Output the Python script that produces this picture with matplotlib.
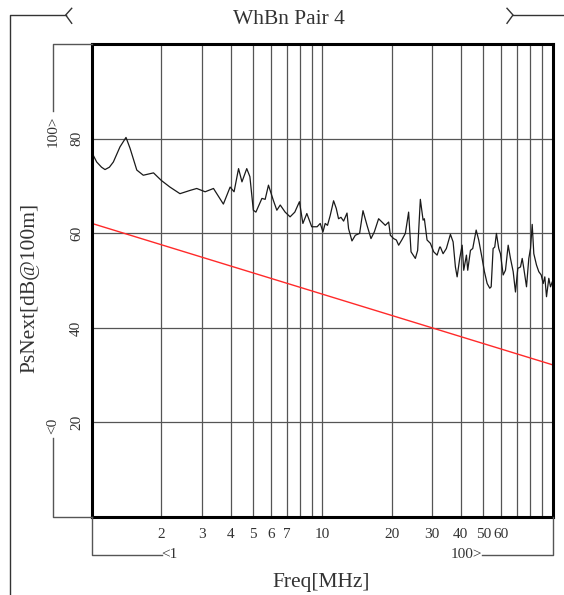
import matplotlib
matplotlib.use("Agg")
import matplotlib.pyplot as plt

# ---- data ----
freq_mhz = [1.0, 1.013, 1.048, 1.10, 1.139, 1.19, 1.238, 1.323, 1.405, 1.463, 1.565, 1.67,
            1.85, 2.0, 2.18, 2.41, 2.67, 2.85, 3.1, 3.37, 3.72, 3.98, 4.14, 4.33, 4.48,
            4.70, 4.85, 5.02, 5.15, 5.47, 5.65, 5.84, 6.13, 6.35, 6.57, 6.9, 7.25, 7.6,
            7.96, 8.24, 8.57, 9.0, 9.5,
            9.80, 10.07, 10.30, 10.54, 10.83, 11.20, 11.50, 11.77, 12.06, 12.38, 12.81,
            13.01, 13.46, 13.92, 14.53, 15.03, 15.65, 16.28, 16.83, 17.57, 18.18, 18.79,
            19.43, 19.76, 20.42, 20.98, 21.47, 22.21, 22.96, 23.72, 24.30, 25.37, 25.96,
            26.67, 27.41, 27.76, 28.52, 29.48, 30.48, 31.53, 32.36,
            32.59, 33.48, 34.60, 36.02, 37.01, 37.87, 38.53, 39.54, 40.51, 41.16, 42.29,
            42.84, 44.02, 45.04, 46.61, 47.81, 49.47, 50.62, 52.02, 53.40, 54.16, 55.22,
            56.12, 57.08, 58.42, 59.43, 61.06, 62.48, 64.19, 65.69, 67.49, 69.06, 70.68,
            72.62, 73.86, 75.05, 77.11, 78.90, 80.26, 81.63, 82.95, 85.21, 87.19, 89.32,
            91.13, 92.59, 94.18, 96.38, 98.02, 99.70]
psnext_db = [77.0, 76.5, 75.1, 74.0, 73.5, 74.0, 75.1, 78.3, 80.3, 78.0, 73.4, 72.3,
             72.8, 71.2, 69.8, 68.4, 69.1, 69.5, 68.8, 69.5, 66.2, 69.8, 68.8, 73.7, 70.9,
             73.7, 72.0, 64.9, 64.5, 67.4, 67.2, 70.2, 67.0, 64.9, 66.0, 64.5, 63.5, 64.5,
             66.7, 62.1, 64.2, 61.4, 61.4,
             62.1, 60.3, 62.1, 61.7, 63.8, 66.9, 65.3, 63.1, 63.4, 62.6, 64.3,
             61.0, 58.4, 59.6, 60.0, 64.8, 61.7, 58.9, 60.3, 63.1, 62.4, 61.7,
             62.4, 59.6, 58.9, 58.6, 57.5, 58.7, 60.0, 64.5, 56.1, 54.7, 56.4,
             67.2, 62.8, 63.1, 58.6, 57.9, 56.1, 55.4, 57.1,
             57.1, 55.7, 56.8, 59.8, 58.2, 52.9, 50.8, 54.7, 57.5, 52.2, 55.4,
             52.2, 56.4, 56.8, 60.7, 58.6, 54.7, 51.9, 49.4, 48.4, 48.7, 56.8,
             57.1, 60.0, 56.8, 55.7, 51.2, 52.2, 57.5, 54.7, 51.9, 47.6, 52.6,
             52.9, 54.7, 52.6, 48.7, 54.7, 56.8, 61.9, 55.7, 53.3, 51.9, 51.2,
             49.4, 50.8, 46.6, 50.5, 48.7, 49.7]
limit_freq = [1.0, 100.0]
limit_db = [62.1, 32.2]

x_grid = [2, 3, 4, 5, 6, 7, 8, 9, 10, 20, 30, 40, 50, 60, 70, 80, 90]
x_labels = ["2", "3", "4", "5", "6", "7", "", "", "10", "20", "30", "40", "50", "60", "", "", ""]
y_grid = [20, 40, 60, 80]
y_labels = ["20", "40", "60", "80"]

title = "WhBn Pair 4"
xlabel = "Freq[MHz]"
ylabel = "PsNext[dB@100m]"

FONT = "Liberation Serif"
W, H = 564, 595

fig = plt.figure(figsize=(W / 100, H / 100), dpi=100)
fig.patch.set_facecolor("white")

ax = fig.add_axes([92 / W, (H - 517) / H, (552.5 - 92) / W, (517 - 44.3) / H])
ax.set_xscale("log")
ax.set_xlim(1, 100)
ax.set_ylim(0, 100)

ax.plot(freq_mhz, psnext_db, color="#1a1a1a", lw=0.9, zorder=3)
ax.plot(limit_freq, limit_db, color="#ff2a2a", lw=1.0, zorder=3)

ax.set_xticks(x_grid)
ax.set_xticklabels(x_labels, fontfamily=FONT, fontsize=11, color="#333333")
ax.xaxis.set_minor_locator(matplotlib.ticker.NullLocator())
ax.set_yticks(y_grid)
ax.set_yticklabels(y_labels, fontfamily=FONT, fontsize=11, color="#333333",
                   rotation=90, va="center")
ax.tick_params(axis="x", length=0, pad=8)
ax.tick_params(axis="y", length=0, pad=6.5)
ax.grid(True, color="#555555", lw=0.9, zorder=1)
for s in ax.spines.values():
    s.set_linewidth(2.2)
    s.set_color("black")
    s.set_zorder(4)

# ---- overlay for frame annotations (pixel coordinates) ----
ov = fig.add_axes([0, 0, 1, 1], zorder=5)
ov.set_xlim(0, W)
ov.set_ylim(H, 0)
ov.axis("off")
ov.patch.set_alpha(0)

dark = "#333333"
gray = "#555555"
# outer frame with title arrows
ov.plot([10, 10, 66], [595, 15, 15], color=dark, lw=1.0)
ov.plot([71.7, 65.7, 71.7], [8.3, 15, 23.3], color=dark, lw=1.0)
ov.plot([507, 513, 507], [8.3, 15, 23.3], color=dark, lw=1.0)
ov.plot([513, 564], [15, 15], color=dark, lw=1.0)
ov.text(289, 19, title, ha="center", va="center", fontfamily=FONT, fontsize=15.5, color=dark)

# y range indicator
ov.plot([92, 53, 53], [44.3, 44.3, 111], color=gray, lw=1.0)
ov.plot([53, 53, 92], [438, 517, 517], color=gray, lw=1.0)
ov.text(53, 131, "100>", rotation=90, ha="center", va="center", fontfamily=FONT,
        fontsize=11, color=dark)
ov.text(53, 426, "<0", rotation=90, ha="center", va="center", fontfamily=FONT,
        fontsize=11, color=dark)

# x range indicator
ov.plot([92, 92, 162], [517, 555, 555], color=gray, lw=1.0)
ov.plot([482, 552.5, 552.5], [555, 555, 517], color=gray, lw=1.0)
ov.text(169.5, 555, "<1", ha="center", va="center", fontfamily=FONT, fontsize=11, color=dark)
ov.text(466, 555, "100>", ha="center", va="center", fontfamily=FONT, fontsize=11, color=dark)

# axis titles
ov.text(321, 582, xlabel, ha="center", va="center", fontfamily=FONT, fontsize=15.5, color=dark)
ov.text(30, 288, ylabel, ha="center", va="center", rotation=90, fontfamily=FONT,
        fontsize=15.5, color=dark)

fig.savefig("out.png", dpi=100)
